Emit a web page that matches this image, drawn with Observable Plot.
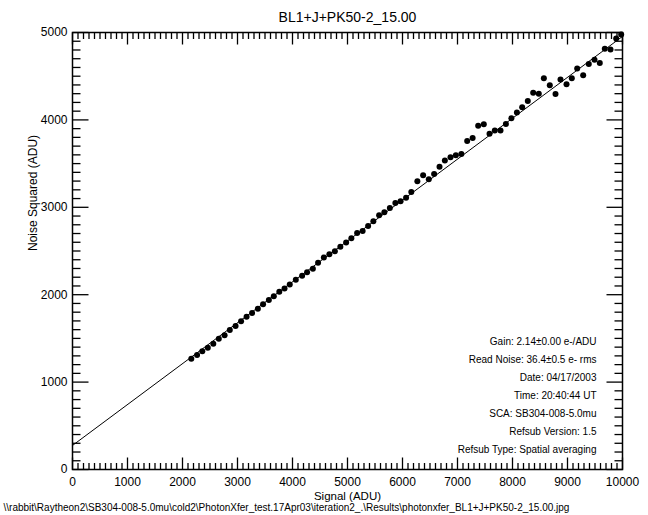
<!DOCTYPE html>
<html><head><meta charset="utf-8">
<script src="https://cdn.jsdelivr.net/npm/d3@7"></script>
<script src="https://cdn.jsdelivr.net/npm/@observablehq/plot@0.6"></script>
<style>body{margin:0;background:#fff}#chart{width:648px;height:515px}</style>
</head><body><div id="chart"></div>
<script>
const title = "BL1+J+PK50-2_15.00";
const xLabel = "Signal (ADU)";
const yLabel = "Noise Squared (ADU)";
const caption = "\\\\rabbit\\Raytheon2\\SB304-008-5.0mu\\cold2\\PhotonXfer_test.17Apr03\\iteration2_.\\Results\\photonxfer_BL1+J+PK50-2_15.00.jpg";
const notes = [
  "Gain: 2.14\u00b10.00 e-/ADU",
  "Read Noise: 36.4\u00b10.5 e- rms",
  "Date: 04/17/2003",
  "Time: 20:40:44 UT",
  "SCA: SB304-008-5.0mu",
  "Refsub Version: 1.5",
  "Refsub Type: Spatial averaging"
];
const xTicks = [0,1000,2000,3000,4000,5000,6000,7000,8000,9000,10000];
const yTicks = [0,1000,2000,3000,4000,5000];

const signal = [2160,2265,2360,2460,2560,2660,2765,2860,2965,3065,3165,3265,3370,3465,3570,3660,3760,3855,3950,4060,
  4175,4265,4370,4465,4570,4670,4770,4870,4975,5070,5175,5275,5375,5470,5575,5670,5770,5870,5965,6065,
  6160,6270,6375,6478,6575,6673,6770,6873,6970,7070,7176,7275,7376,7478,7582,7678,7782,7880,7980,8080,
  8176,8278,8376,8478,8570,8678,8782,8873,8982,9078,9176,9285,9387,9491,9587,9678,9782,9885,9976];
const noiseSq = [1268,1310,1352,1392,1440,1495,1535,1595,1642,1697,1747,1790,1838,1892,1938,1981,2035,2070,2118,2170,
  2217,2256,2298,2366,2425,2464,2498,2550,2598,2645,2706,2728,2787,2840,2909,2944,2993,3050,3070,3110,
  3175,3297,3366,3322,3382,3465,3536,3572,3595,3609,3758,3794,3933,3950,3842,3878,3878,3953,4018,4086,
  4145,4216,4310,4298,4476,4396,4297,4461,4407,4476,4587,4511,4641,4687,4652,4813,4805,4931,4977];
const fitSignal = [0, 10000];
const fitNoiseSq = [275, 4955];

const pts = signal.map((s, i) => ({signal: s, noise: noiseSq[i]}));
const fit = fitSignal.map((s, i) => ({signal: s, noise: fitNoiseSq[i]}));
const xMinor = d3.range(0, 10001, 100).filter(v => v % 1000 !== 0);
const yMinor = d3.range(0, 5001, 100).filter(v => v % 1000 !== 0);
const font = "'Liberation Sans', Arial, Helvetica, sans-serif";

const W = 648, H = 515, mL = 72, mR = 26, mT = 32, mB = 46;
const xMin = 0, xMax = 10000, yMin = 0, yMax = 5000;
const fw = W - mL - mR, fh = H - mT - mB;
const ux = (xMax - xMin) / fw, uy = (yMax - yMin) / fh; // data units per pixel
const tk = {stroke: "black", strokeWidth: 1.3};
const xt = (vals, len) => [
  Plot.link(vals, {x1: d => d, x2: d => d, y1: yMin, y2: yMin + len * uy, ...tk}),
  Plot.link(vals, {x1: d => d, x2: d => d, y1: yMax, y2: yMax - len * uy, ...tk})
];
const yt = (vals, len) => [
  Plot.link(vals, {y1: d => d, y2: d => d, x1: xMin, x2: xMin + len * ux, ...tk}),
  Plot.link(vals, {y1: d => d, y2: d => d, x1: xMax, x2: xMax - len * ux, ...tk})
];

const plot = Plot.plot({
  width: W, height: H,
  marginLeft: mL, marginRight: mR, marginTop: mT, marginBottom: mB,
  style: {fontFamily: font, background: "white", color: "black", fontSize: "12px"},
  x: {domain: [xMin, xMax], axis: null},
  y: {domain: [yMin, yMax], axis: null},
  marks: [
    Plot.line(fit, {x: "signal", y: "noise", stroke: "black", strokeWidth: 1}),
    Plot.dot(pts, {x: "signal", y: "noise", r: 3, fill: "black", stroke: "none"}),
    ...xt(xTicks, 12), ...xt(xMinor, 6.5),
    ...yt(yTicks, 16), ...yt(yMinor, 8),
    Plot.frame({stroke: "black", strokeWidth: 1.5}),
    Plot.axisX(xTicks, {anchor: "bottom", tickSize: 0, tickPadding: 8, tickFormat: "d", label: null, fontSize: 12}),
    Plot.axisY(yTicks, {anchor: "left", tickSize: 0, tickPadding: 5, tickFormat: "d", label: null, fontSize: 12}),
    Plot.text([title], {frameAnchor: "top", dy: -20, fontSize: 14}),
    Plot.text([xLabel], {frameAnchor: "bottom", dy: 30, fontSize: 11.5}),
    Plot.text([yLabel], {frameAnchor: "left", dx: -39, rotate: -90, fontSize: 12}),
    Plot.text([caption], {frameAnchor: "bottom-left", dx: -69, dy: 41, textAnchor: "start", fontSize: 10}),
    Plot.text([notes.join("\n")], {frameAnchor: "top-right", dx: -26, dy: 300, lineAnchor: "top", lineHeight: 1.8, textAnchor: "end", fontSize: 10})
  ]
});
document.getElementById("chart").appendChild(plot);
</script>
</body></html>
